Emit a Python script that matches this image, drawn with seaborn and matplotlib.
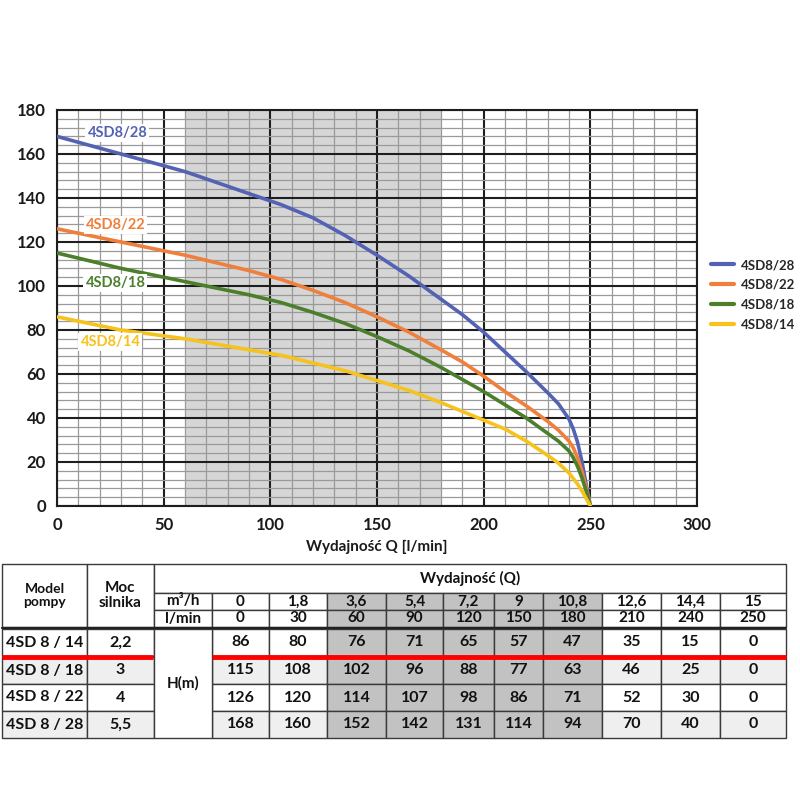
import matplotlib
matplotlib.use("Agg")
import matplotlib.pyplot as plt
from matplotlib.ticker import MultipleLocator
from matplotlib.patches import Rectangle
import seaborn as sns
import pandas as pd

# ---------------- data ----------------
# table values
q_lmin = [0, 30, 60, 90, 120, 150, 180, 210, 240, 250]
q_m3h = ["0", "1,8", "3,6", "5,4", "7,2", "9", "10,8", "12,6", "14,4", "15"]
models = ["4SD8/28", "4SD8/22", "4SD8/18", "4SD8/14"]
h_28 = [168, 160, 152, 142, 131, 114, 94, 70, 40, 0]
h_22 = [126, 120, 114, 107, 98, 86, 71, 52, 30, 0]
h_18 = [115, 108, 102, 96, 88, 77, 63, 46, 25, 0]
h_14 = [86, 80, 76, 71, 65, 57, 47, 35, 15, 0]
table_models = ["4SD 8 / 14", "4SD 8 / 18", "4SD 8 / 22", "4SD 8 / 28"]
table_power = ["2,2", "3", "4", "5,5"]
shade_range = (60, 180)

# curve points
curve_q = [0, 30, 60, 90, 105, 120, 135, 150, 165, 180, 190, 200, 210, 220, 230,
           235, 240, 242, 244, 246, 248, 250]
curve_28 = [168, 160, 152, 142, 137, 131, 123, 114, 104.5, 94, 87, 79, 70, 61, 51.5,
            46.5, 39.5, 35, 29, 20.5, 10, 0]
curve_22 = [126, 120, 114, 107, 103, 98, 92.5, 86, 79, 71, 65.5, 59, 52, 45.5, 38.5,
            34.5, 29.5, 26.5, 22, 16, 8.5, 0]
curve_18 = [115, 108, 102, 96, 92.5, 88, 83, 77, 70.5, 63, 57.5, 52, 46, 40, 33,
            29.5, 25, 22, 18, 13, 7, 0]
curve_14 = [86, 80, 76, 71, 68.5, 65, 61.5, 57, 52.5, 47, 43, 39, 35, 29.5, 23,
            19.5, 15, 12.5, 10, 7, 3.5, 0]

colors = {"4SD8/28": "#5362b3", "4SD8/22": "#f07f3c",
          "4SD8/18": "#4b7f2c", "4SD8/14": "#f6c21c"}

curves = {"4SD8/28": curve_28, "4SD8/22": curve_22, "4SD8/18": curve_18, "4SD8/14": curve_14}
df = pd.concat([pd.DataFrame({"Q": curve_q, "H": curves[m], "model": m}) for m in models],
               ignore_index=True)

sns.set_theme(style="white")
plt.rcParams["font.family"] = ["Lato", "DejaVu Sans"]

fig = plt.figure(figsize=(8, 8), dpi=100)

# ---------------- table (pixel coordinates) ----------------
tax = fig.add_axes([0, 0, 1, 1])
tax.set_xlim(0, 800)
tax.set_ylim(800, 0)
tax.axis("off")
tax.patch.set_alpha(0)

E = [2, 87, 154, 212, 269, 327, 386, 443, 494, 543, 602, 661, 720, 786]
edge = "#3a3a3a"
dark = "#c2c2c2"
light = "#efefef"

def cell(x0, x1, y0, y1, txt, fc="white", fs=11, lw=1.0):
    tax.add_patch(Rectangle((x0, y0), x1 - x0, y1 - y0, facecolor=fc,
                            edgecolor=edge, lw=lw))
    if txt:
        tax.text((x0 + x1) / 2, (y0 + y1) / 2, txt, ha="center", va="center",
                 fontsize=fs, fontweight="bold", color="#111111",
                 linespacing=1.1)

cell(E[0], E[1], 564, 627, "Model\npompy", fs=10)
cell(E[1], E[2], 564, 627, "Moc\nsilnika", fs=11)
cell(E[2], E[13], 564, 593, "Wydajność (Q)", fs=11)
cell(E[2], E[3], 593, 610, "m³/h", fs=11)
cell(E[2], E[3], 610, 627, "l/min", fs=11)
for i, (q, m3) in enumerate(zip(q_lmin, q_m3h)):
    fc = dark if shade_range[0] <= q <= shade_range[1] else "white"
    cell(E[3 + i], E[4 + i], 593, 610, m3, fc=fc, fs=11)
    cell(E[3 + i], E[4 + i], 610, 627, str(q), fc=fc, fs=11)

row_y = [(629, 656), (657, 684), (684, 711), (711, 738)]
row_vals = [h_14, h_18, h_22, h_28]
for r, ((y0, y1), name, pw, vals) in enumerate(zip(row_y, table_models, table_power, row_vals)):
    base = light if r % 2 == 1 else "white"
    cell(E[0], E[1], y0, y1, name, fc=base, fs=11.5)
    cell(E[1], E[2], y0, y1, pw, fc=base, fs=11.5)
    for i, (q, v) in enumerate(zip(q_lmin, vals)):
        fc = dark if shade_range[0] <= q <= shade_range[1] else base
        cell(E[3 + i], E[4 + i], y0, y1, str(v), fc=fc, fs=11.5)
cell(E[2], E[3], 629, 738, "H(m)", fs=11)
tax.plot([E[0], E[13]], [627.5, 627.5], color="#222222", lw=1.6)
tax.plot([E[0], 153], [656.5, 656.5], color="#ff0000", lw=3.5, solid_capstyle="butt")
tax.plot([E[3], E[13]], [656.5, 656.5], color="#ff0000", lw=3.5, solid_capstyle="butt")

# ---------------- chart ----------------
ax = fig.add_axes([57 / 800, 1 - 506 / 800, 640 / 800, 396 / 800])
ax.axvspan(shade_range[0], shade_range[1], color="#d6d6d6", zorder=0.1, lw=0)
sns.lineplot(data=df, x="Q", y="H", hue="model", hue_order=models,
             palette=colors, lw=2.6, ax=ax, legend=False, zorder=3)
for ln in ax.get_lines():
    ln.set_solid_joinstyle("round")

ax.set_xlim(0, 300)
ax.set_ylim(0, 180)
ax.xaxis.set_major_locator(MultipleLocator(50))
ax.yaxis.set_major_locator(MultipleLocator(20))
ax.xaxis.set_minor_locator(MultipleLocator(10))
ax.yaxis.set_minor_locator(MultipleLocator(4))
ax.set_axisbelow(True)
ax.grid(which="major", color="#1e1e1e", lw=1.5)
ax.grid(which="minor", color="#9a9a9a", lw=0.9)
for s in ax.spines.values():
    s.set_color("#1e1e1e")
    s.set_linewidth(1.5)
ax.tick_params(axis="both", which="major", length=5, width=1.5, color="#1e1e1e",
               labelsize=12, pad=3)
ax.tick_params(which="minor", length=0)
for lab in ax.get_xticklabels() + ax.get_yticklabels():
    lab.set_fontweight("bold")
    lab.set_color("#1a1a1a")
ax.set_xlabel("Wydajność Q [l/min]", fontsize=11, fontweight="bold",
              color="#1a1a1a", labelpad=5)
ax.set_ylabel("")

# inline labels
label_pos = {"4SD8/28": (28.3, 169.5), "4SD8/22": (27.4, 127.7),
             "4SD8/18": (27.4, 101.4), "4SD8/14": (25, 74.5)}
for m in models:
    x, y = label_pos[m]
    ax.text(x, y, m, color=colors[m], fontsize=10.5, fontweight="bold",
            ha="center", va="center", zorder=4,
            bbox=dict(facecolor="white", edgecolor="none", pad=1.5))

# legend
handles = [plt.Line2D([], [], color=colors[m], lw=3) for m in models]
fig.legend(handles, models, loc="upper left", bbox_to_anchor=(711 / 800, 1 - 259 / 800),
           frameon=False, handlelength=1.75, handletextpad=0.55,
           labelspacing=0.6, borderpad=0, borderaxespad=0,
           prop={"weight": "bold", "size": 9.5})

fig.savefig("out.png", dpi=100)
